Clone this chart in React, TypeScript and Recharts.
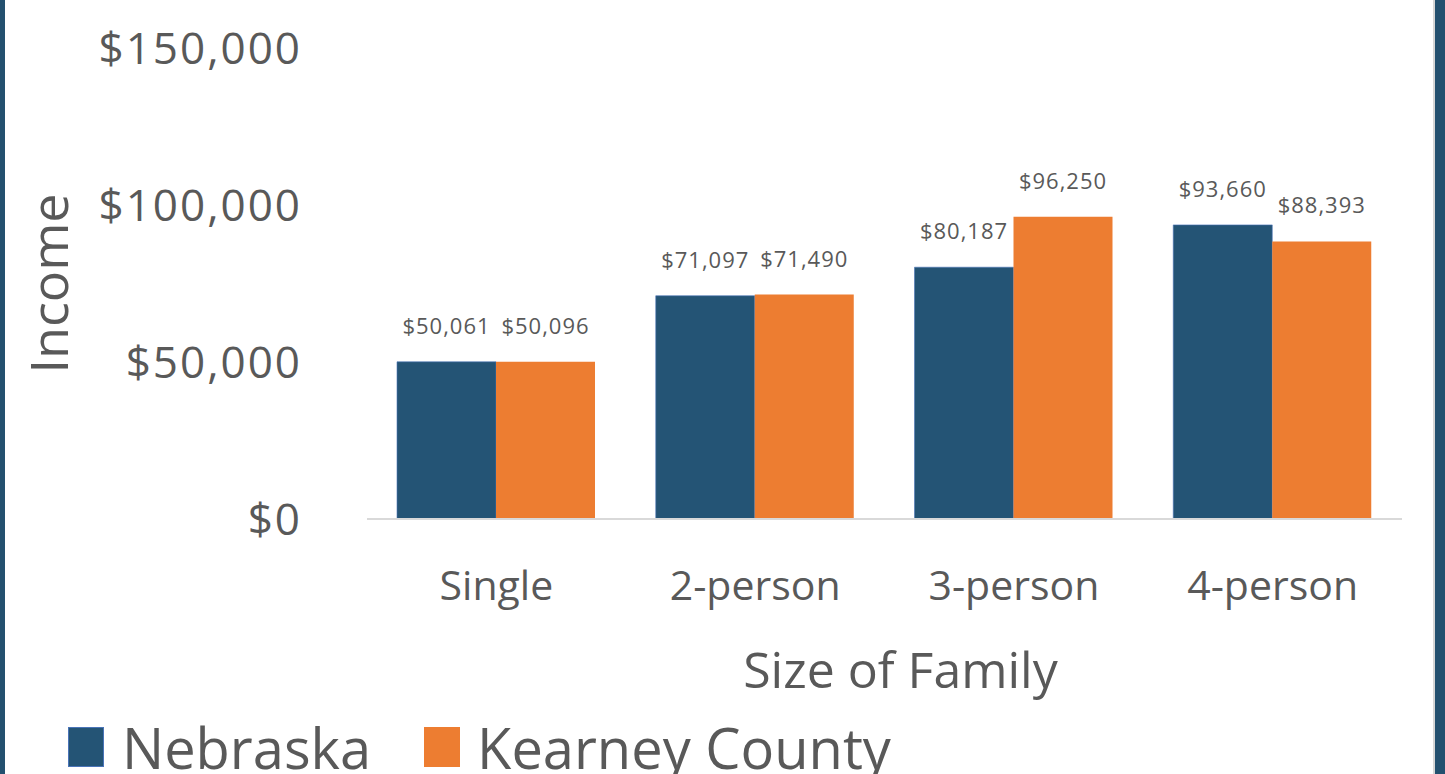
import React from 'react';
import { BarChart, Bar, XAxis, YAxis, Legend, LabelList, Label } from 'recharts';

const categories = ['Single', '2-person', '3-person', '4-person'];
const nebraska = [50061, 71097, 80187, 93660];
const kearney = [50096, 71490, 96250, 88393];
const yTicks = [0, 50000, 100000, 150000];

const NAVY = '#245475';
const ORANGE = '#ED7D31';
const TEXT = '#595959';
const FONT = '"Open Sans", sans-serif';

const data = categories.map((name, i) => ({
  name,
  nebraska: nebraska[i],
  kearney: kearney[i],
}));

const money = (v: number) => `$${Number(v).toLocaleString('en-US')}`;

const LegendContent = () => (
  <div
    style={{
      display: 'flex',
      alignItems: 'center',
      height: 50,
      paddingLeft: 68,
      fontFamily: FONT,
      fontSize: 56,
      color: TEXT,
      lineHeight: '50px',
      whiteSpace: 'nowrap',
      marginTop: -2,
    }}
  >
    <span style={{ width: 36, height: 40, background: NAVY, boxSizing: 'border-box', border: '1px solid #4a74b8', marginRight: 18 }} />
    <span style={{ marginRight: 53 }}>Nebraska</span>
    <span style={{ width: 36, height: 40, background: ORANGE, marginRight: 17 }} />
    <span>Kearney County</span>
  </div>
);

const YLabel = (props: any) => {
  const { viewBox } = props;
  const cy = viewBox.y + viewBox.height / 2;
  const x = 68;
  return (
    <text
      x={x}
      y={cy}
      transform={`rotate(-90, ${x}, ${cy})`}
      textAnchor="middle"
      fontFamily={FONT}
      fontSize={52}
      fill={TEXT}
    >
      Income
    </text>
  );
};

const XLabel = (props: any) => {
  const { viewBox } = props;
  return (
    <text
      x={viewBox.x + viewBox.width / 2 + 16}
      y={viewBox.y + 169}
      textAnchor="middle"
      fontFamily={FONT}
      fontSize={50}
      fill={TEXT}
    >
      Size of Family
    </text>
  );
};

export default function App() {
  return (
    <div style={{ position: 'relative', width: 1445, height: 774, background: '#fff', overflow: 'hidden' }}>
      <style>{`body{margin:0}`}</style>
      <BarChart
        width={1445}
        height={774}
        data={data}
        margin={{ top: 48, right: 43, left: 5, bottom: 0 }}
        barGap={0}
        barSize={99}
      >
        <XAxis
          dataKey="name"
          height={205}
          tickSize={0}
          tickMargin={52}
          axisLine={{ stroke: '#d9d9d9', strokeWidth: 2 }}
          tick={{ fill: TEXT, fontSize: 41, fontFamily: FONT }}
        >
          <Label content={<XLabel />} />
        </XAxis>
        <YAxis
          width={362}
          domain={[0, 150000]}
          ticks={yTicks}
          tickFormatter={money}
          axisLine={false}
          tickLine={false}
          tickSize={0}
          tickMargin={65}
          tick={{ fill: TEXT, fontSize: 44, fontFamily: FONT, letterSpacing: 2 }}
        >
          <Label content={<YLabel />} />
        </YAxis>
        <Legend
          verticalAlign="bottom"
          align="left"
          content={<LegendContent />}
          wrapperStyle={{ left: 0, bottom: 0, width: 1445, height: 50 }}
        />
        <Bar dataKey="nebraska" name="Nebraska" fill={NAVY} stroke="#4a74b8" strokeOpacity={0.6} strokeWidth={1} isAnimationActive={false}>
          <LabelList dataKey="nebraska" position="top" offset={28} formatter={money} fill={TEXT} fontSize={22} fontFamily={FONT} letterSpacing={1} />
        </Bar>
        <Bar dataKey="kearney" name="Kearney County" fill={ORANGE} isAnimationActive={false}>
          <LabelList dataKey="kearney" position="top" offset={28} formatter={money} fill={TEXT} fontSize={22} fontFamily={FONT} letterSpacing={1} />
        </Bar>
      </BarChart>
      <div style={{ position: 'absolute', left: 0, top: 0, width: 5, height: 774, background: '#23506f' }} />
      <div style={{ position: 'absolute', left: 1433, top: 0, width: 2, height: 774, background: '#d6d6d6' }} />
      <div style={{ position: 'absolute', left: 1435, top: 0, width: 10, height: 774, background: '#23506f' }} />
    </div>
  );
}
